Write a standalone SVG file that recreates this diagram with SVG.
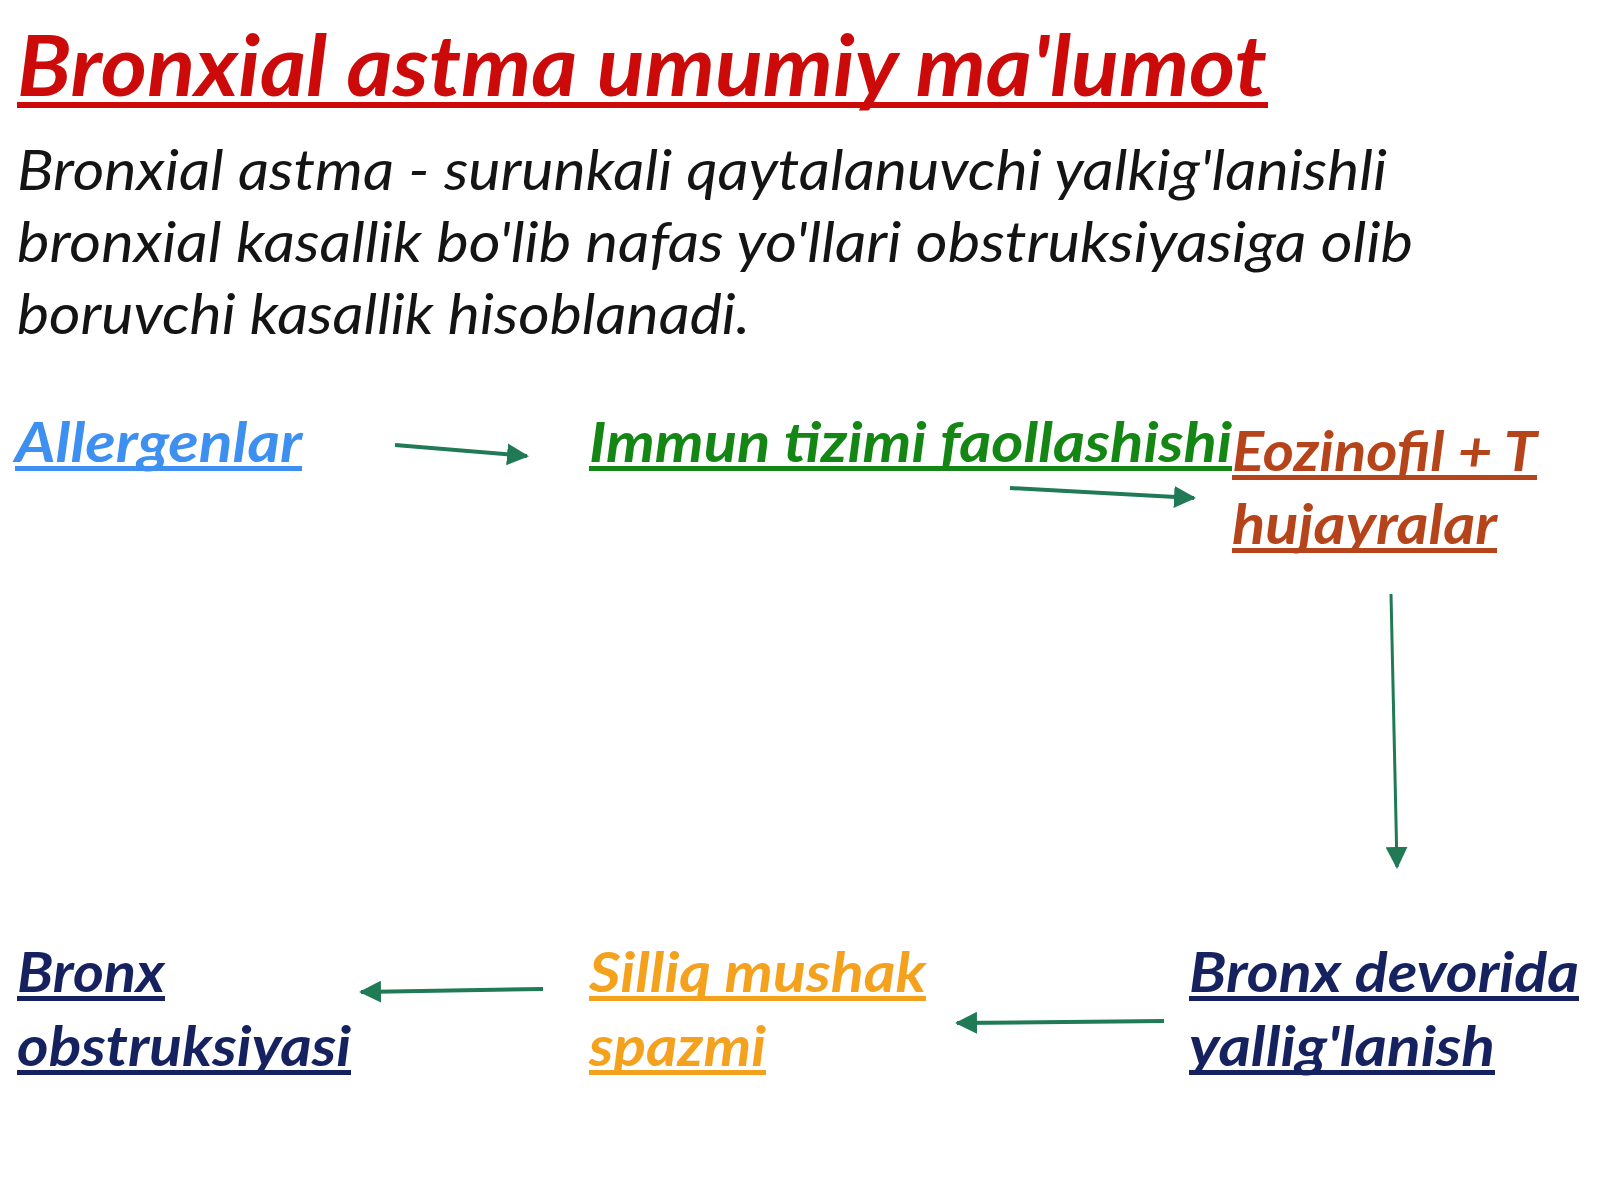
<svg xmlns="http://www.w3.org/2000/svg" width="1600" height="1200" viewBox="0 0 1600 1200">
  <style>
    .t { font-family: Lato, "Noto Sans", "Liberation Sans", sans-serif; font-style: italic; }
    .title { font-size: 84px; font-weight: bold; fill: #cc0a0a; }
    .body { font-size: 56px; font-weight: normal; fill: #141414; }
    .lbl { font-size: 56px; font-weight: bold; }
    .blue { fill: #3d8ff0; }
    .green { fill: #138613; }
    .brown { fill: #b5441a; }
    .navy { fill: #16215f; }
    .orange { fill: #f4a21e; }
    .conn { stroke: #1f7a55; stroke-width: 4; fill: none; }
  </style>
  <defs>
    <marker id="ah" viewBox="0 0 22 22" refX="20" refY="11" markerWidth="22" markerHeight="22" markerUnits="userSpaceOnUse" orient="auto">
      <path d="M0,0 L22,11 L0,22 z" fill="#1f7a55"/>
    </marker>
  </defs>
  <rect x="0" y="0" width="1600" height="1200" fill="#ffffff"/>

  <g id="title">
    <text class="t title" x="17" y="96" textLength="1250" lengthAdjust="spacingAndGlyphs">Bronxial astma umumiy ma'lumot</text>
    <rect class="title" x="17" y="102" width="1251" height="6"/>
  </g>

  <g id="definition">
    <text class="t body" x="17" y="190" textLength="1370" lengthAdjust="spacingAndGlyphs">Bronxial astma - surunkali qaytalanuvchi yalkig'lanishli</text>
    <text class="t body" x="17" y="262" textLength="1396" lengthAdjust="spacingAndGlyphs">bronxial kasallik bo'lib nafas yo'llari obstruksiyasiga olib</text>
    <text class="t body" x="17" y="334" textLength="733" lengthAdjust="spacingAndGlyphs">boruvchi kasallik hisoblanadi.</text>
  </g>

  <g id="connectors">
    <line class="conn" x1="395" y1="445" x2="527" y2="456" marker-end="url(#ah)"/>
    <line class="conn" x1="1010" y1="488" x2="1194" y2="498" marker-end="url(#ah)"/>
    <line class="conn" style="stroke-width:3" x1="1391" y1="594" x2="1397" y2="867" marker-end="url(#ah)"/>
    <line class="conn" x1="1164" y1="1021" x2="957" y2="1023" marker-end="url(#ah)"/>
    <line class="conn" x1="543" y1="989" x2="361" y2="992" marker-end="url(#ah)"/>
  </g>

  <g id="node-allergenlar">
    <text class="t lbl blue" x="15" y="462" textLength="287" lengthAdjust="spacingAndGlyphs">Allergenlar</text>
    <rect class="blue" x="15" y="466" width="287" height="5"/>
  </g>
  <g id="node-immun">
    <text class="t lbl green" x="589" y="462" textLength="643" lengthAdjust="spacingAndGlyphs">Immun tizimi faollashishi</text>
    <rect class="green" x="589" y="466" width="643" height="5"/>
  </g>
  <g id="node-eozinofil">
    <text class="t lbl brown" x="1232" y="471" textLength="305" lengthAdjust="spacingAndGlyphs">Eozinofil + T</text>
    <rect class="brown" x="1232" y="475" width="305" height="5"/>
    <text class="t lbl brown" x="1232" y="544" textLength="265" lengthAdjust="spacingAndGlyphs">hujayralar</text>
    <rect class="brown" x="1232" y="548" width="265" height="5"/>
  </g>
  <g id="node-yallig">
    <text class="t lbl navy" x="1189" y="992" textLength="390" lengthAdjust="spacingAndGlyphs">Bronx devorida</text>
    <rect class="navy" x="1189" y="996" width="390" height="5"/>
    <text class="t lbl navy" x="1189" y="1066" textLength="306" lengthAdjust="spacingAndGlyphs">yallig'lanish</text>
    <rect class="navy" x="1189" y="1070" width="306" height="5"/>
  </g>
  <g id="node-spazm">
    <text class="t lbl orange" x="589" y="992" textLength="337" lengthAdjust="spacingAndGlyphs">Silliq mushak</text>
    <rect class="orange" x="589" y="996" width="337" height="5"/>
    <text class="t lbl orange" x="589" y="1066" textLength="177" lengthAdjust="spacingAndGlyphs">spazmi</text>
    <rect class="orange" x="589" y="1070" width="177" height="5"/>
  </g>
  <g id="node-obstruksiya">
    <text class="t lbl navy" x="17" y="992" textLength="148" lengthAdjust="spacingAndGlyphs">Bronx</text>
    <rect class="navy" x="17" y="996" width="148" height="5"/>
    <text class="t lbl navy" x="17" y="1066" textLength="334" lengthAdjust="spacingAndGlyphs">obstruksiyasi</text>
    <rect class="navy" x="17" y="1070" width="334" height="5"/>
  </g>
</svg>
